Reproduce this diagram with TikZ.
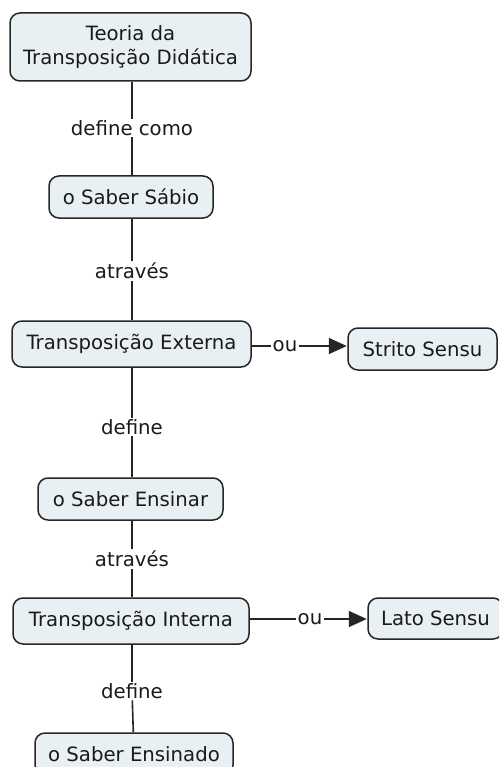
\documentclass[tikz,border=0pt]{standalone}
\usepackage{fontspec}
\setmainfont{DejaVu Sans}
\usetikzlibrary{arrows.meta}
\definecolor{conceptfill}{HTML}{E9F0F4}
\definecolor{inkline}{HTML}{262626}
\definecolor{inktext}{HTML}{1A1A1A}
\begin{document}
\begin{tikzpicture}[x=1pt,y=-1pt,
  concept/.style={draw=inkline, fill=conceptfill, line width=1.5pt,
    rounded corners=10pt, inner sep=0pt, align=center, text=inktext,
    font=\fontsize{19.7}{23.5}\selectfont},
  linkword/.style={fill=white, inner sep=1.5pt, text=inktext,
    font=\fontsize{19.7}{23.5}\selectfont},
  link/.style={draw=inkline, line width=1.6pt},
  linkarrow/.style={link, -{Triangle[length=18pt,width=16pt]}, shorten >=0.5pt}]
\useasboundingbox (0,0) rectangle (499,767);
\clip (0,0) rectangle (499,767);
\fill[white] (0,0) rectangle (499,767);

% concepts
\node[concept, minimum width=241pt, minimum height=68pt] (teoria) at (130.5,47)
  {Teoria da\\Transposição Didática};
\node[concept, minimum width=164pt, minimum height=42pt] (sabio) at (131,197)
  {o Saber Sábio};
\node[concept, minimum width=239pt, minimum height=46pt] (externa) at (131.5,344)
  {Transposição Externa};
\node[concept, minimum width=149pt, minimum height=42pt] (strito) at (422.5,349)
  {Strito Sensu};
\node[concept, minimum width=185pt, minimum height=42pt] (ensinar) at (130.5,499)
  {o Saber Ensinar};
\node[concept, minimum width=236pt, minimum height=46pt] (interna) at (131,621)
  {Transposição Interna};
\node[concept, minimum width=135pt, minimum height=41pt] (lato) at (435.5,618.5)
  {Lato Sensu};
\node[concept, minimum width=198pt, minimum height=42pt] (ensinado) at (134,754)
  {o Saber Ensinado};

% linking words
\node[linkword] (l1) at (132,128) {define como};
\node[linkword] (l2) at (132,271) {através};
\node[linkword] (l3) at (132,427) {define};
\node[linkword] (l4) at (132,559) {através};
\node[linkword] (l5) at (132,691) {define};
\node[linkword] (ou1) at (285,346) {ou};
\node[linkword] (ou2) at (310,619) {ou};

% vertical links
\draw[link] (l1.north -| l1) -- (teoria.south -| l1);
\draw[link] (l1.south -| l1) -- (sabio.north -| l1);
\draw[link] (l2.north -| l2) -- (sabio.south -| l2);
\draw[link] (l2.south -| l2) -- (externa.north -| l2);
\draw[link] (l3.north -| l3) -- (externa.south -| l3);
\draw[link] (l3.south -| l3) -- (ensinar.north -| l3);
\draw[link] (l4.north -| l4) -- (ensinar.south -| l4);
\draw[link] (l4.south -| l4) -- (interna.north -| l4);
\draw[link] (l5.north -| l5) -- (interna.south -| l5);
\draw[link] (l5) -- (ensinado);

% horizontal links
\draw[link] (externa.east |- ou1) -- (ou1.west);
\draw[linkarrow] (ou1.east) -- (ou1.east -| strito.west);
\draw[link] (interna.east |- ou2) -- (ou2.west);
\draw[linkarrow] (ou2.east) -- (ou2.east -| lato.west);
\end{tikzpicture}
\end{document}
